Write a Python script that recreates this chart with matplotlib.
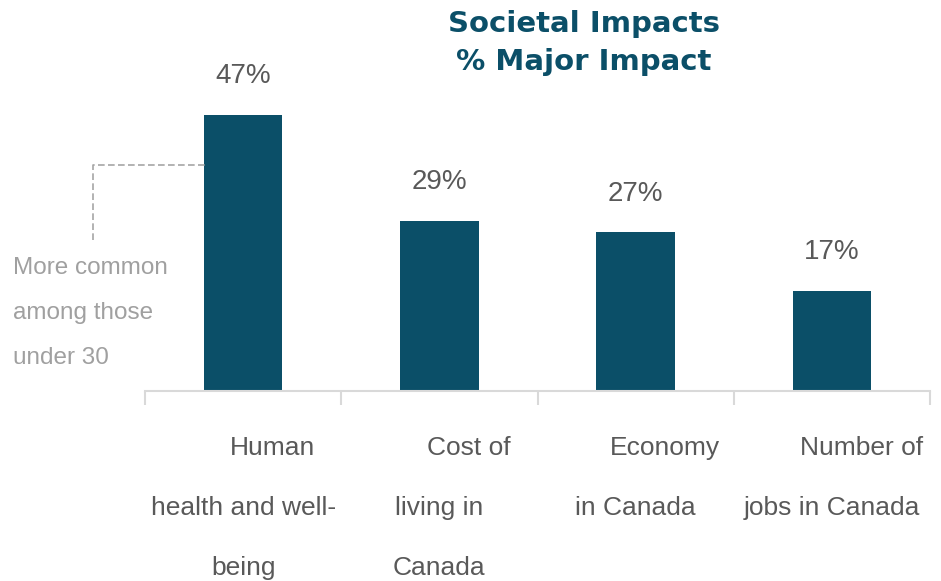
import matplotlib.pyplot as plt
from matplotlib import font_manager

# data
label_lines = [
    ["Human", "health and well-", "being"],
    ["Cost of", "living in", "Canada"],
    ["Economy", "in Canada"],
    ["Number of", "jobs in Canada"],
]
values = [47, 29, 27, 17]
value_labels = ["47%", "29%", "27%", "17%"]
note_lines = ["More common", "among those", "under 30"]

bar_color = "#0b4f68"
title_color = "#0b4f68"
text_color = "#595959"
note_color = "#a0a0a0"

installed = {f.name for f in font_manager.fontManager.ttflist}
narrow = "Liberation Sans Narrow" if "Liberation Sans Narrow" in installed else "Liberation Sans"

plt.rcParams["font.family"] = ["Liberation Sans", "DejaVu Sans"]

fig = plt.figure(figsize=(9.41, 5.81), dpi=100)
ax = fig.add_axes([145 / 941, 190 / 581, 785 / 941, 293.6 / 581])

x = list(range(len(values)))
bars = ax.bar(x, values, width=0.4, color=bar_color)
ax.set_xlim(-0.5, len(values) - 0.5)
ax.set_ylim(0, 50)

# value labels on top of bars
for xi, v, lab in zip(x, values, value_labels):
    ax.annotate(lab, (xi, v), xytext=(0, 28), textcoords="offset points",
                ha="center", va="center", fontsize=20, color=text_color)

# axis: only the baseline and the category separators
for s in ["left", "right", "top"]:
    ax.spines[s].set_visible(False)
ax.spines["bottom"].set_color("#d9d9d9")
ax.spines["bottom"].set_linewidth(1.5)
ax.set_yticks([])
ax.set_xticks([i - 0.5 for i in range(len(values) + 1)])
ax.set_xticklabels([])
ax.tick_params(axis="x", length=10, width=1.5, color="#d9d9d9")

# category labels, one text per line
line_y = [0.2290, 0.1257, 0.0224]
for xi, lines in zip(x, label_lines):
    for j, line in enumerate(lines):
        dx = 0.15 if j == 0 else 0.0
        xf = (145 + (xi + 0.5 + dx) * 196.25) / 941
        fig.text(xf, line_y[j], line, ha="center", va="center",
                 fontsize=19, color=text_color, family=[narrow, "DejaVu Sans"])

# title
fig.text(584 / 941, 1 - 24 / 581, "Societal Impacts", ha="center", va="center",
         fontsize=21, fontweight="bold", color=title_color, family=["DejaVu Sans"])
fig.text(584 / 941, 1 - 62 / 581, "% Major Impact", ha="center", va="center",
         fontsize=21, fontweight="bold", color=title_color, family=["DejaVu Sans"])

# side note with dashed connector
fig.add_artist(plt.Line2D([93 / 941, 93 / 941, 205 / 941],
                          [1 - 240 / 581, 1 - 165 / 581, 1 - 165 / 581],
                          transform=fig.transFigure, color="#a6a6a6",
                          linestyle=(0, (4, 2)), linewidth=1.2))
for j, line in enumerate(note_lines):
    fig.text(13 / 941, 1 - (268 + 45 * j) / 581, line, ha="left", va="center",
             fontsize=17.5, color=note_color)

fig.savefig("out.png", dpi=100)
